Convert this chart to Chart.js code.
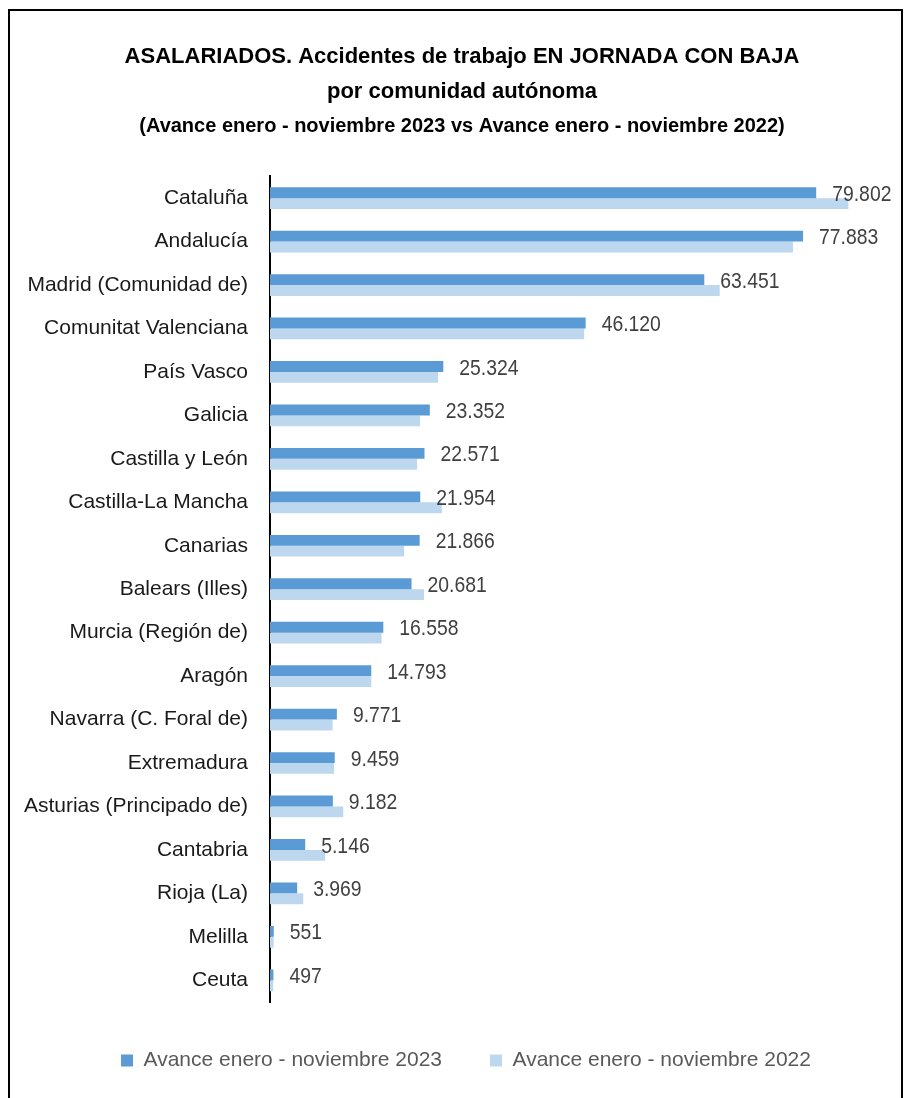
<!DOCTYPE html>
<html lang="es">
<head>
    <meta charset="utf-8">
    <title>Accidentes de trabajo por comunidad autónoma</title>
    <script src="https://cdn.jsdelivr.net/npm/chart.js"></script>
    <style>
        body {
            margin: 0;
            background: #fff;
        }
        #wrap {
            width: 905px;
            height: 1098px;
        }
    </style>
</head>
<body>
<div id="wrap">
    <canvas id="chart"></canvas>
</div>

<script>
    const FONT = "'Liberation Sans', Arial, sans-serif";

    const categories = [
        'Cataluña', 'Andalucía', 'Madrid (Comunidad de)', 'Comunitat Valenciana', 'País Vasco',
        'Galicia', 'Castilla y León', 'Castilla-La Mancha', 'Canarias', 'Balears (Illes)',
        'Murcia (Región de)', 'Aragón', 'Navarra (C. Foral de)', 'Extremadura',
        'Asturias (Principado de)', 'Cantabria', 'Rioja (La)', 'Melilla', 'Ceuta'
    ];

    const values2023 = [79802, 77883, 63451, 46120, 25324, 23352, 22571, 21954, 21866, 20681,
        16558, 14793, 9771, 9459, 9182, 5146, 3969, 551, 497];

    // 2022 has no labels in the picture
    const values2022 = [84500, 76400, 65700, 45900, 24550, 21900, 21500, 25100, 19600, 22500,
        16300, 14800, 9150, 9350, 10700, 8050, 4850, 530, 470];

    const seriesNames = ['Avance enero - noviembre 2023', 'Avance enero - noviembre 2022'];

    // thousands with a dot, also for 4 digit numbers
    function fmt(n) {
        return String(n).replace(/\B(?=(\d{3})+(?!\d))/g, '.');
    }

    // white page and the outer frame
    const framePlugin = {
        id: 'frame',
        beforeDraw(chart) {
            const ctx = chart.ctx;
            ctx.save();
            ctx.fillStyle = '#fff';
            ctx.fillRect(0, 0, chart.width, chart.height);
            ctx.strokeStyle = '#000';
            ctx.lineWidth = 2;
            ctx.strokeRect(9, 10, 893, 1200);
            ctx.restore();
        }
    };

    // titles and legend sit a little right of the page centre in the original
    const shiftBoxes = {
        id: 'shiftBoxes',
        afterLayout(chart) {
            chart.boxes.forEach(b => {
                if (b.axis) return;
                if (b.position === 'top') { b.left += 14; b.right += 14; }
                if (b.position === 'bottom') { b.left += 18; b.right += 18; }
            });
        }
    };

    // value labels at the end of the 2023 bars (squeezed a bit, the original font is narrow)
    const valueLabels = {
        id: 'valueLabels',
        afterDatasetsDraw(chart) {
            const ctx = chart.ctx;
            const meta = chart.getDatasetMeta(0);
            const sx = 0.88;
            ctx.save();
            ctx.font = '22px ' + FONT;
            ctx.fillStyle = '#404040';
            ctx.textAlign = 'left';
            ctx.textBaseline = 'middle';
            meta.data.forEach((bar, i) => {
                ctx.save();
                ctx.translate(bar.x + 16, bar.y + 2);
                ctx.scale(sx, 1);
                ctx.fillText(fmt(values2023[i]), 0, 0);
                ctx.restore();
            });
            ctx.restore();
        }
    };

    new Chart(document.getElementById('chart'), {
        type: 'bar',
        data: {
            labels: categories,
            datasets: [{
                label: seriesNames[0],
                data: values2023,
                backgroundColor: '#5B9BD5',
                categoryPercentage: 0.5,
                barPercentage: 1.0
            }, {
                label: seriesNames[1],
                data: values2022,
                backgroundColor: '#BDD7EE',
                categoryPercentage: 0.5,
                barPercentage: 1.0
            }]
        },
        options: {
            indexAxis: 'y',
            responsive: true,
            maintainAspectRatio: false,
            animation: false,
            layout: {
                padding: {top: 12, left: 10, right: 19, bottom: 17}
            },
            scales: {
                x: {
                    display: false,
                    min: 0,
                    max: 90000
                },
                y: {
                    grid: {display: false, drawTicks: false},
                    border: {display: true, color: '#000', width: 2},
                    ticks: {
                        color: '#1a1a1a',
                        padding: 22,
                        font: {family: FONT, size: 21}
                    },
                    afterFit(scale) {
                        // keeps the axis line at x = 270
                        scale.width = 260;
                    }
                }
            },
            plugins: {
                title: {
                    display: true,
                    text: ['ASALARIADOS. Accidentes de trabajo EN JORNADA CON BAJA', 'por comunidad autónoma'],
                    color: '#000',
                    font: {family: FONT, size: 22, weight: 'bold', lineHeight: 1.6},
                    padding: {top: 27, bottom: 0}
                },
                subtitle: {
                    display: true,
                    text: '(Avance enero - noviembre 2023 vs Avance enero - noviembre 2022)',
                    color: '#000',
                    font: {family: FONT, size: 20, weight: 'bold', lineHeight: 1.2},
                    padding: {top: 5, bottom: 38}
                },
                legend: {
                    position: 'bottom',
                    labels: {
                        color: '#595959',
                        boxWidth: 12,
                        boxHeight: 12,
                        padding: 48,
                        font: {family: FONT, size: 21}
                    }
                },
                tooltip: {enabled: false}
            }
        },
        plugins: [framePlugin, shiftBoxes, valueLabels]
    });
</script>
</body>
</html>
